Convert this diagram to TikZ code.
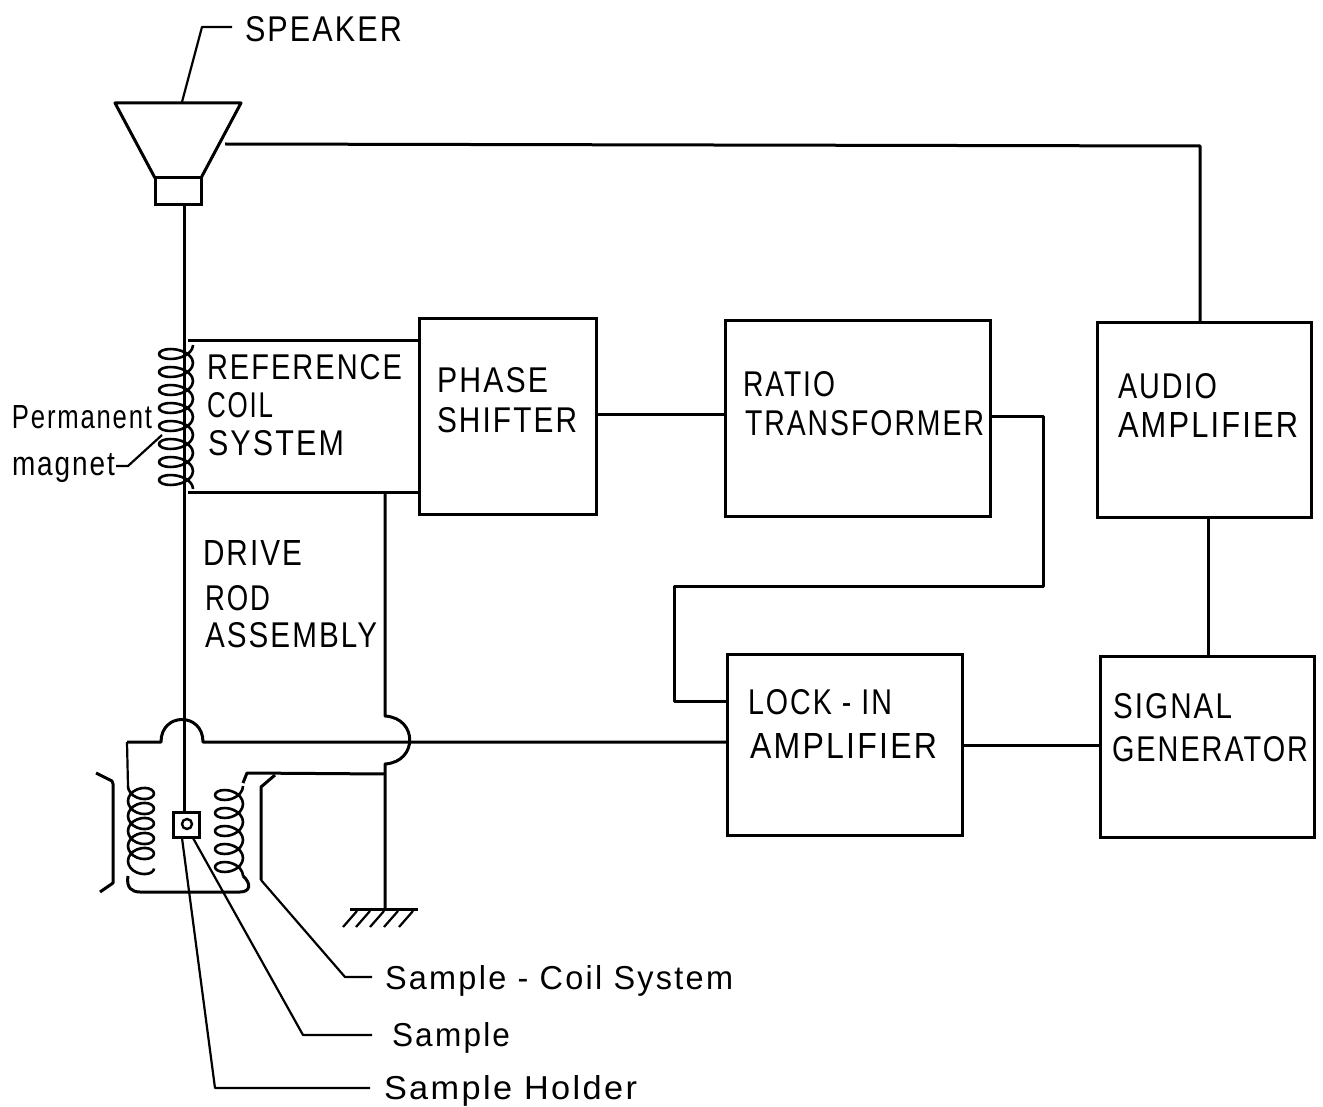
\documentclass[tikz,border=0pt]{standalone}
\usepackage{graphicx}
\usepackage{fontspec}
\setmainfont{Liberation Sans}[LetterSpace=7]
\tikzset{
 boxnode/.style={draw=black,line width=3pt,minimum width=#1,inner sep=0pt,outer sep=0pt},
 wire/.style={draw=black,line width=3pt,line join=round},
 thinwire/.style={draw=black,line width=2.2pt,line join=round},
 coilwire/.style={draw=black,line width=2.6pt,line join=round},
 lab/.style={anchor=west,inner sep=0pt,outer sep=0pt,text=black}
}
\newcommand{\lbl}[6]{\node[lab] (#1) at (#2,#3) {\resizebox{#4pt}{#5pt}{#6}};}
\begin{document}
\begin{tikzpicture}[x=1pt,y=-1pt]
\useasboundingbox (0,0) rectangle (1323,1107);
% boxes
\node[boxnode=177pt,minimum height=195pt] (phase) at (507.5,416.5) {};
\node[boxnode=265pt,minimum height=195pt] (ratio) at (857.5,418.5) {};
\node[boxnode=214pt,minimum height=194pt] (audio) at (1204,420) {};
\node[boxnode=235pt,minimum height=181pt] (lockin) at (844.5,744.5) {};
\node[boxnode=214pt,minimum height=181pt] (siggen) at (1207,746.5) {};
\node[boxnode=46pt,minimum height=27pt] (driver) at (178,191.5) {};
\node[boxnode=26pt,minimum height=25pt] (holder) at (186,824.5) {};
\node[draw=black,line width=2.4pt,circle,minimum size=10pt,inner sep=0pt] (sample) at (187,824) {};
% speaker cone
\draw[wire] (155,178) -- (115,103) -- (241,103) -- (201,178);
% coordinates
\coordinate (conetap) at (225,144);
\coordinate (topcorner) at (1200,146);
\coordinate (audiotop) at (audio.north -| topcorner);
\coordinate (refT) at (188,341);
\coordinate (refB) at (188,492);
\coordinate (phaseT) at (phase.west |- refT);
\coordinate (phaseB) at (phase.west |- refB);
\coordinate (r1) at (1043,416);
\coordinate (r2) at (1043,586);
\coordinate (r3) at (674,586);
\coordinate (r4) at (674,701);
\coordinate (ratioout) at (ratio.east |- r1);
\coordinate (lockinIn) at (lockin.west |- r4);
% connectors
\draw[wire] (conetap) -- (topcorner) -- (audiotop);
\draw[wire] (driver.south) ++(6,0) coordinate (rodtop) -- (holder.north -| rodtop);
\draw[wire] (refT) -- (phaseT);
\draw[wire] (refB) -- (phaseB);
\draw[wire] (phase.east |- 0,414) coordinate (pe) -- (ratio.west |- pe);
\draw[wire] (ratioout) -- (r1) -- (r2) -- (r3) -- (r4) -- (lockinIn);
\draw[wire] (audio.south -| 1208,0) coordinate (as) -- (siggen.north -| as);
\draw[wire] (lockin.east |- 0,745) coordinate (le) -- (siggen.west |- le);
% sample coil wiring
\coordinate (jl) at (127,742);
\coordinate (bL) at (161,742);
\coordinate (bR) at (203,742);
\coordinate (lockinSig) at (lockin.west |- jl);
\draw[wire] (jl) -- (bL) .. controls (161,712) and (203,712) .. (bR) -- (lockinSig);
\draw[thinwire] (jl) -- (128,786);
\coordinate (v0) at (385,492);
\coordinate (v1) at (385,716);
\coordinate (v2) at (385,764);
\coordinate (gnd) at (385,909);
\draw[wire] (v0) -- (v1) .. controls (418,718) and (418,762) .. (v2) -- (gnd);
\draw[wire] (243,783) -- (247,773) -- (385,774);
\draw[wire] (275,775) -- (261,787) -- (261,880);
\draw[wire] (128,876) .. controls (126,888) and (132,892) .. (140,892) -- (240,892) .. controls (250,892) and (252,884) .. (243,876);
% ground
\draw[wire] (350,909) -- (418,909);
\foreach \x in {357,370,384,398,413}{\draw[thinwire] (\x,911) -- +(-14,16);}
% bracket
\draw[wire] (96,773) -- (112,781) -- (113,784) -- (113,883) -- (100,892);
% coils
\draw[coilwire] plot[smooth,domain=0:2880,samples=161,variable=\t] ({176+17*cos(\t)},{345+\t/360*18+9*sin(\t)});
\draw[coilwire] plot[smooth,domain=180:2160,samples=111,variable=\t] ({141+13*cos(\t)},{786+(\t-180)/360*15-9*sin(\t)});
\draw[coilwire] plot[smooth,domain=0:1800,samples=101,variable=\t] ({229+14*cos(\t)},{786+\t/360*18+9*sin(\t)});
% leaders
\coordinate (m1) at (202,27);
\coordinate (m2) at (232,27);
\draw[thinwire] (182,102) -- (m1) -- (m2);
\coordinate (c1) at (345,977);
\coordinate (c2) at (372,977);
\draw[thinwire] (261,880) -- (c1) -- (c2);
\coordinate (s1) at (303,1035);
\coordinate (s2) at (372,1035);
\draw[thinwire] (193,838) -- (s1) -- (s2);
\coordinate (h1) at (215,1088);
\coordinate (h2) at (370,1088);
\draw[thinwire] (182,838) -- (h1) -- (h2);
\coordinate (pm1) at (162,435);
\coordinate (pm2) at (128,466);
\coordinate (pm3) at (116,466);
\draw[thinwire] (pm1) -- (pm2) -- (pm3);
% labels
\lbl{tspeaker}{245}{29}{157}{25}{SPEAKER}
\lbl{tref}{207}{367}{195}{25}{REFERENCE}
\lbl{tcoil}{207}{405}{66}{25}{COIL}
\lbl{tsys}{208}{443}{136}{25}{SYSTEM}
\lbl{tph}{437}{380}{111}{25}{PHASE}
\lbl{tsh}{437}{420}{140}{25}{SHIFTER}
\lbl{tra}{743}{384}{92}{25}{RATIO}
\lbl{ttr}{745}{423}{239}{25}{TRANSFORMER}
\lbl{tau}{1118}{386}{99}{25}{AUDIO}
\lbl{tam}{1118}{425}{180}{25}{AMPLIFIER}
\lbl{tdr}{203}{553}{99}{25}{DRIVE}
\lbl{tro}{205}{598}{65}{25}{ROD}
\lbl{tas}{205}{635}{172}{25}{ASSEMBLY}
\lbl{tlo}{748}{702}{144}{25}{LOCK - IN}
\lbl{tam2}{750}{746}{187}{25}{AMPLIFIER}
\lbl{tsi}{1113}{706}{119}{25}{SIGNAL}
\lbl{tge}{1112}{749}{196}{25}{GENERATOR}
\lbl{tpe}{12}{417}{140}{23}{Permanent}
\lbl{tma}{12}{468}{103}{22}{magnet}
\lbl{tsc}{385}{981}{348}{24}{Sample - Coil  System}
\lbl{tsa}{392}{1038}{118}{24}{Sample}
\lbl{tsh2}{384}{1091}{253}{24}{Sample  Holder}
\end{tikzpicture}
\end{document}
